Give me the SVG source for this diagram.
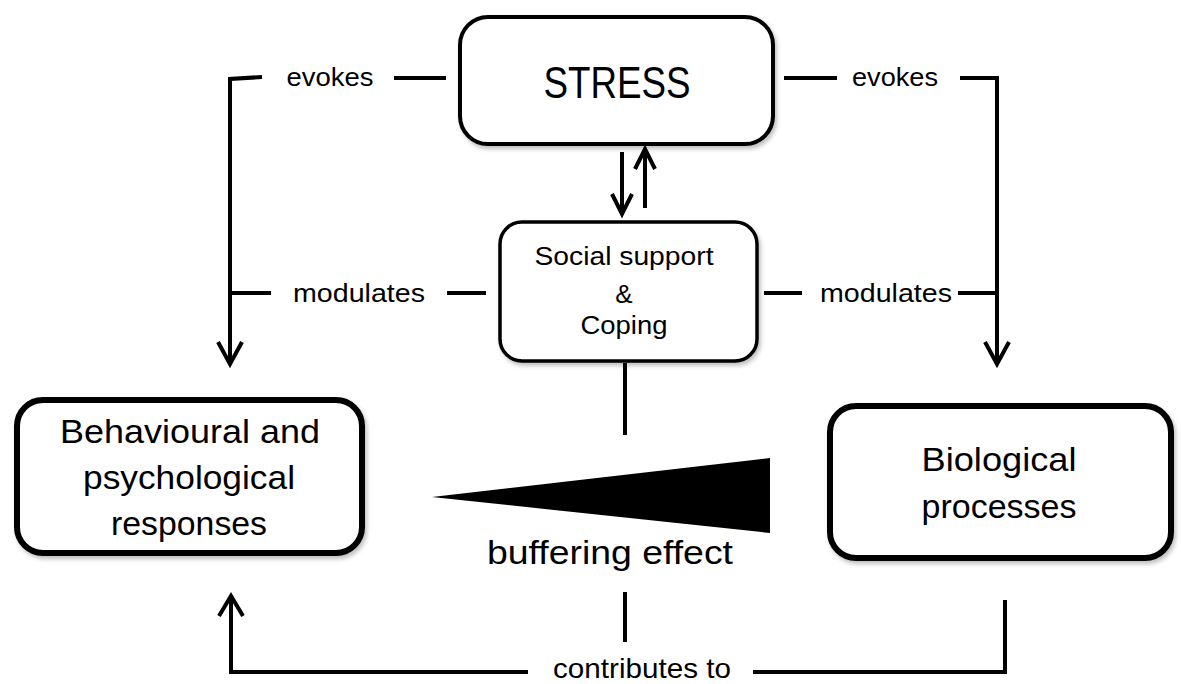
<svg xmlns="http://www.w3.org/2000/svg" width="1181" height="684" viewBox="0 0 1181 684">
<defs>
<filter id="sh" x="-10%" y="-10%" width="130%" height="130%">
<feDropShadow dx="2" dy="3" stdDeviation="2" flood-color="#000" flood-opacity="0.25"/>
</filter>
<style>
.box{fill:#fff;stroke:#000;stroke-linejoin:round}
.ln{fill:none;stroke:#000;stroke-width:4;stroke-linecap:butt;stroke-linejoin:miter}
.ah{fill:none;stroke:#000;stroke-width:4;stroke-linejoin:miter}
.t{font-family:"Liberation Sans",Arial,sans-serif;fill:#000;text-anchor:middle}
</style>
</defs>
<rect width="1181" height="684" fill="#fff"/>

<g id="connectors">
  <!-- left evokes -->
  <polyline class="ln" points="262,77 230,79 230,362"/>
  <polyline class="ah" points="218,342 230,364 242,342"/>
  <line class="ln" x1="394" y1="78" x2="446" y2="78"/>
  <!-- right evokes -->
  <line class="ln" x1="784" y1="78" x2="837" y2="78"/>
  <polyline class="ln" points="960,78 997,78 997,362"/>
  <polyline class="ah" points="985,342 997,364 1009,342"/>
  <!-- left modulates -->
  <line class="ln" x1="230" y1="293" x2="271" y2="293"/>
  <line class="ln" x1="447" y1="293" x2="486" y2="293"/>
  <!-- right modulates -->
  <line class="ln" x1="764" y1="293" x2="802" y2="293"/>
  <line class="ln" x1="958" y1="293" x2="997" y2="293"/>
  <!-- stress <-> social -->
  <line class="ln" x1="622" y1="152" x2="622" y2="214"/>
  <polyline class="ah" points="612,194 622,214 632,194"/>
  <line class="ln" x1="645" y1="208" x2="645" y2="149"/>
  <polyline class="ah" points="635,169 645,149 655,169"/>
  <!-- center vertical -->
  <line class="ln" x1="625" y1="363" x2="625" y2="435"/>
  <line class="ln" x1="625" y1="592" x2="625" y2="642"/>
  <!-- bottom contributes -->
  <polyline class="ln" points="1005,600 1005,672 753,672"/>
  <polyline class="ln" points="528,672 231,672 231,596"/>
  <polyline class="ah" points="219,616 231,596 243,616"/>
  <!-- buffering wedge -->
  <polygon points="432,497 770,458 770,533" fill="#000"/>
</g>

<g id="stress">
  <rect class="box" x="460" y="17" width="313" height="127" rx="28" stroke-width="4" filter="url(#sh)"/>
  <text class="t" x="617" y="98" font-size="44" textLength="147" lengthAdjust="spacingAndGlyphs">STRESS</text>
</g>

<g id="social">
  <rect class="box" x="500" y="222" width="257" height="139" rx="22" stroke-width="3.5" filter="url(#sh)"/>
  <text class="t" x="624" y="265" font-size="26" textLength="179" lengthAdjust="spacingAndGlyphs">Social support</text>
  <text class="t" x="624" y="303" font-size="26">&amp;</text>
  <text class="t" x="624" y="334" font-size="26" textLength="87" lengthAdjust="spacingAndGlyphs">Coping</text>
</g>

<g id="behavioural">
  <rect class="box" x="17" y="400" width="345" height="153" rx="26" stroke-width="6" filter="url(#sh)"/>
  <text class="t" x="190" y="443" font-size="33" textLength="260" lengthAdjust="spacingAndGlyphs">Behavioural and</text>
  <text class="t" x="189" y="489" font-size="33" textLength="212" lengthAdjust="spacingAndGlyphs">psychological</text>
  <text class="t" x="189" y="535" font-size="33" textLength="156" lengthAdjust="spacingAndGlyphs">responses</text>
</g>

<g id="biological">
  <rect class="box" x="830" y="406" width="341" height="152" rx="26" stroke-width="6" filter="url(#sh)"/>
  <text class="t" x="999" y="471" font-size="33" textLength="155" lengthAdjust="spacingAndGlyphs">Biological</text>
  <text class="t" x="999" y="518" font-size="33" textLength="155" lengthAdjust="spacingAndGlyphs">processes</text>
</g>

<g id="labels">
  <text class="t" x="330" y="86" font-size="26" textLength="87" lengthAdjust="spacingAndGlyphs">evokes</text>
  <text class="t" x="895" y="86" font-size="26" textLength="86" lengthAdjust="spacingAndGlyphs">evokes</text>
  <text class="t" x="359" y="302" font-size="26" textLength="132" lengthAdjust="spacingAndGlyphs">modulates</text>
  <text class="t" x="886" y="302" font-size="26" textLength="132" lengthAdjust="spacingAndGlyphs">modulates</text>
  <text class="t" x="610" y="564" font-size="34" textLength="246" lengthAdjust="spacingAndGlyphs">buffering effect</text>
  <text class="t" x="642" y="678" font-size="28" textLength="178" lengthAdjust="spacingAndGlyphs">contributes to</text>
</g>
</svg>
